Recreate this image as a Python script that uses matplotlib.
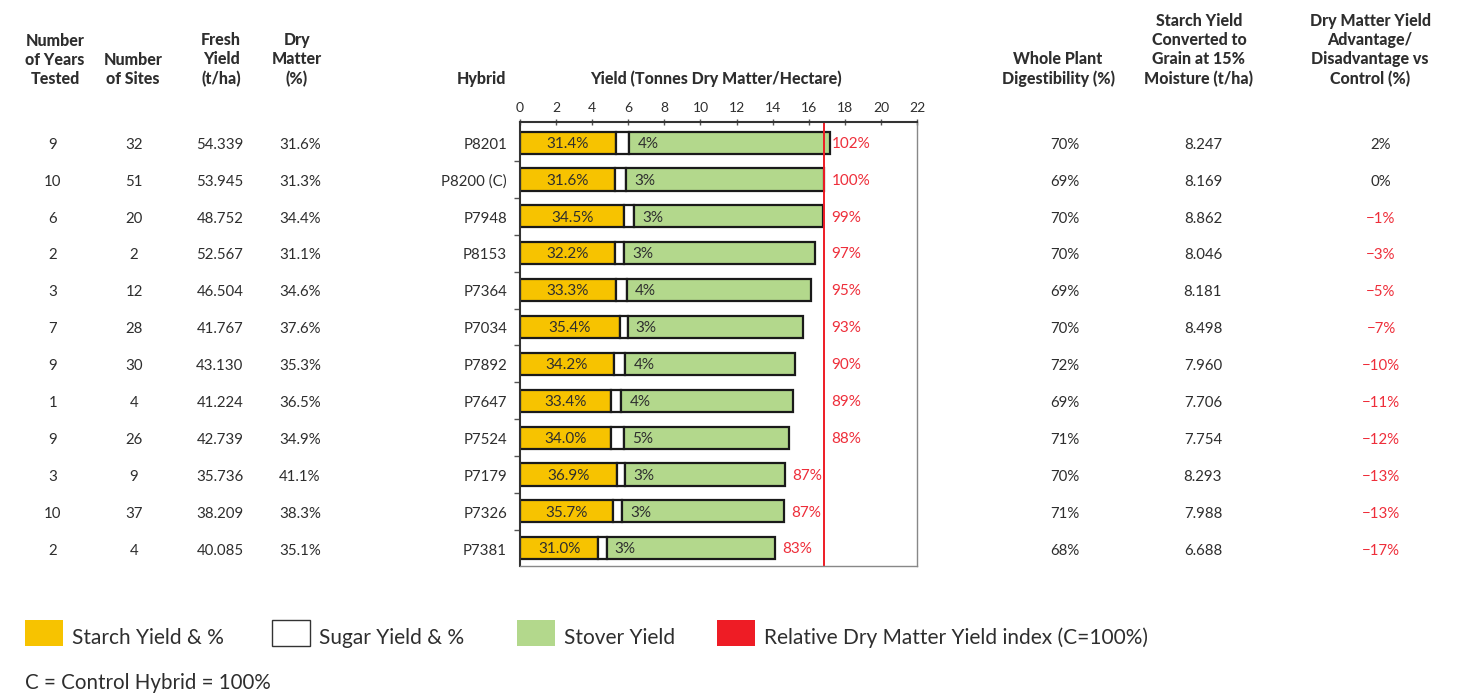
import matplotlib
matplotlib.use("Agg")
import matplotlib.pyplot as plt
from matplotlib.patches import Rectangle
from matplotlib.transforms import blended_transform_factory

plt.rcParams['font.family'] = ['Lato', 'DejaVu Sans']

# ---------------- data ----------------
hybrids = ["P8201", "P8200 (C)", "P7948", "P8153", "P7364", "P7034",
           "P7892", "P7647", "P7524", "P7179", "P7326", "P7381"]
years_tested = [9, 10, 6, 2, 3, 7, 9, 1, 9, 3, 10, 2]
num_sites = [32, 51, 20, 2, 12, 28, 30, 4, 26, 9, 37, 4]
fresh_yield = ["54.339", "53.945", "48.752", "52.567", "46.504", "41.767",
               "43.130", "41.224", "42.739", "35.736", "38.209", "40.085"]
dry_matter_pct = ["31.6%", "31.3%", "34.4%", "31.1%", "34.6%", "37.6%",
                  "35.3%", "36.5%", "34.9%", "41.1%", "38.3%", "35.1%"]
starch_yield = [5.32, 5.28, 5.78, 5.24, 5.32, 5.52, 5.21, 5.02, 5.02, 5.39, 5.17, 4.34]
sugar_yield = [0.74, 0.61, 0.54, 0.54, 0.59, 0.44, 0.63, 0.59, 0.72, 0.43, 0.50, 0.46]
stover_yield = [11.11, 10.97, 10.48, 10.56, 10.19, 9.74, 9.40, 9.50, 9.14, 8.88, 8.97, 9.33]
starch_pct = ["31.4%", "31.6%", "34.5%", "32.2%", "33.3%", "35.4%",
              "34.2%", "33.4%", "34.0%", "36.9%", "35.7%", "31.0%"]
sugar_pct = ["4%", "3%", "3%", "3%", "4%", "3%", "4%", "4%", "5%", "3%", "3%", "3%"]
rel_index = ["102%", "100%", "99%", "97%", "95%", "93%", "90%", "89%", "88%",
             "87%", "87%", "83%"]
digestibility = ["70%", "69%", "70%", "70%", "69%", "70%", "72%", "69%", "71%",
                 "70%", "71%", "68%"]
grain_yield = ["8.247", "8.169", "8.862", "8.046", "8.181", "8.498", "7.960",
               "7.706", "7.754", "8.293", "7.988", "6.688"]
advantage = [2, 0, -1, -3, -5, -7, -10, -11, -12, -13, -13, -17]
x_ticks = [0, 2, 4, 6, 8, 10, 12, 14, 16, 18, 20, 22]
control_index = 1

# ---------------- style ----------------
W, H = 1458, 693
C_STARCH = "#F7C300"
C_STOVER = "#B3D88C"
C_RED = "#EE1C25"
C_RED_TXT = "#EE2E3A"
C_TXT = "#2E2E2E"

fig = plt.figure(figsize=(W / 100, H / 100), dpi=100)
ax = fig.add_axes([520 / W, 1 - 566 / H, 397 / W, 444 / H])

n = len(hybrids)
ys = list(range(n))
left2 = [a + b for a, b in zip(starch_yield, sugar_yield)]
totals = [a + b + c for a, b, c in zip(starch_yield, sugar_yield, stover_yield)]

kw = dict(height=0.6, edgecolor="#1a1a1a", linewidth=1.6)
ax.barh(ys, starch_yield, color=C_STARCH, **kw)
ax.barh(ys, sugar_yield, left=starch_yield, color="white", **kw)
ax.barh(ys, stover_yield, left=left2, color=C_STOVER, **kw)

ref = totals[control_index]
ax.axvline(ref, color=C_RED, linewidth=1.4, zorder=1)

for i in range(n):
    ax.text(starch_yield[i] / 2, i + 0.03, starch_pct[i], ha="center", va="center",
            fontsize=11, color=C_TXT)
    ax.text(left2[i] + 0.45, i + 0.03, sugar_pct[i], ha="left", va="center",
            fontsize=11, color=C_TXT)
    xr = ref if i < 9 else totals[i]
    ax.text(xr + 0.4, i + 0.03, rel_index[i], ha="left", va="center",
            fontsize=11, color=C_RED_TXT)

ax.set_xlim(0, 22)
ax.set_ylim(11.48, -0.56)
ax.xaxis.tick_top()
ax.set_xticks(x_ticks)
ax.tick_params(axis="x", direction="inout", length=5, width=1, pad=3,
               labelsize=10, labelcolor=C_TXT, color="#555555")
ax.set_yticks([i + 0.5 for i in range(n - 1)])
ax.set_yticklabels([])
ax.tick_params(axis="y", direction="out", length=4, width=1, color="#555555")
for s in ["top", "left"]:
    ax.spines[s].set_color("#333333")
    ax.spines[s].set_linewidth(1.5)
for s in ["right", "bottom"]:
    ax.spines[s].set_color("#888888")
    ax.spines[s].set_linewidth(1.0)

# ---------------- table text ----------------
tr = blended_transform_factory(fig.transFigure, ax.transData)

def col(xpx, values, colors=None, ha="center"):
    for i, v in enumerate(values):
        c = colors[i] if colors else C_TXT
        fig.text(xpx / W, i + 0.06, str(v), transform=tr, ha=ha, va="center",
                 fontsize=10.8, color=c)

col(53, years_tested)
col(134, num_sites)
col(220, fresh_yield)
col(300, dry_matter_pct)
col(507, hybrids, ha="right")
col(1065, digestibility)
col(1203, grain_yield)
adv_txt = [f"{v}%" if v >= 0 else f"\u2212{abs(v)}%" for v in advantage]
adv_col = [C_TXT if v >= 0 else C_RED_TXT for v in advantage]
col(1381, adv_txt, adv_col)

# ---------------- headers ----------------
hdr = dict(ha="center", va="baseline", fontsize=11.5, fontweight="black",
           color=C_TXT, linespacing=1.25, multialignment="center")
yb = 1 - 84 / H
fig.text(55 / W, yb, "Number\nof Years\nTested", **hdr)
fig.text(133 / W, yb, "Number\nof Sites", **hdr)
fig.text(221 / W, yb, "Fresh\nYield\n(t/ha)", **hdr)
fig.text(297 / W, yb, "Dry\nMatter\n(%)", **hdr)
fig.text(481 / W, yb, "Hybrid", **hdr)
fig.text(716 / W, yb, "Yield (Tonnes Dry Matter/Hectare)", **hdr)
fig.text(1058 / W, yb, "Whole Plant\nDigestibility (%)", **hdr)
fig.text(1199 / W, yb, "Starch Yield\nConverted to\nGrain at 15%\nMoisture (t/ha)", **hdr)
fig.text(1370 / W, yb, "Dry Matter Yield\nAdvantage/\nDisadvantage vs\nControl (%)", **hdr)

# ---------------- legend ----------------
leg_items = [(25, C_STARCH, "none", "Starch Yield & %"),
             (272, "white", "#333333", "Sugar Yield & %"),
             (517, C_STOVER, "none", "Stover Yield"),
             (717, C_RED, "none", "Relative Dry Matter Yield index (C=100%)")]
for xpx, fc, ec, label in leg_items:
    fig.add_artist(Rectangle((xpx / W, 1 - 646 / H), 38 / W, 26 / H,
                             transform=fig.transFigure, facecolor=fc,
                             edgecolor=ec, linewidth=1))
    fig.text((xpx + 47) / W, 1 - 638 / H, label, ha="left", va="center",
             fontsize=15, color=C_TXT)
fig.text(25 / W, 1 - 683 / H, "C = Control Hybrid = 100%", ha="left", va="center",
         fontsize=14.8, color=C_TXT)

fig.savefig("out.png", dpi=100)
